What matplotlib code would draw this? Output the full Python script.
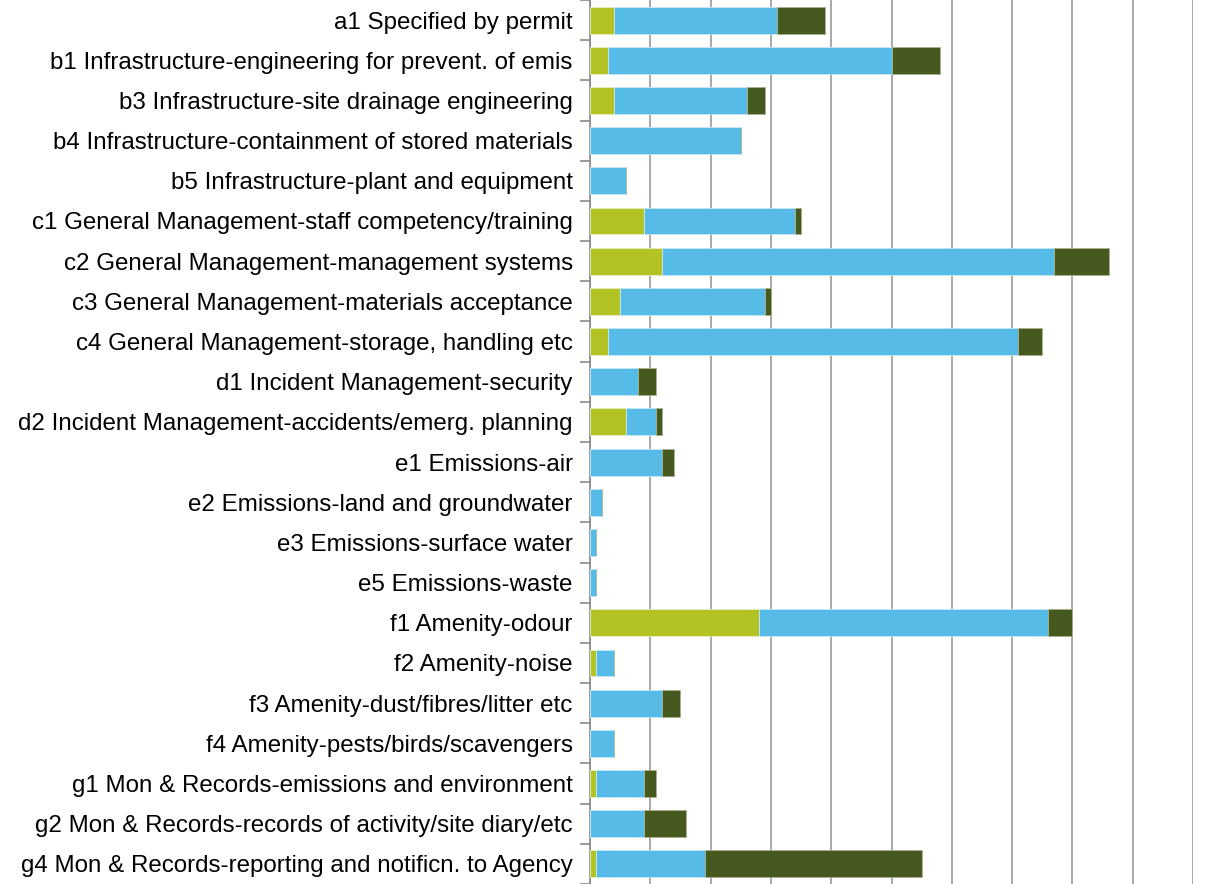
import matplotlib
matplotlib.use("Agg")
import matplotlib.pyplot as plt
import numpy as np

categories = [
    "a1 Specified by permit",
    "b1 Infrastructure-engineering for prevent. of emis",
    "b3 Infrastructure-site drainage engineering",
    "b4 Infrastructure-containment of stored materials",
    "b5 Infrastructure-plant and equipment",
    "c1 General Management-staff competency/training",
    "c2 General Management-management systems",
    "c3 General Management-materials acceptance",
    "c4 General Management-storage, handling etc",
    "d1 Incident Management-security",
    "d2 Incident Management-accidents/emerg. planning",
    "e1 Emissions-air",
    "e2 Emissions-land and groundwater",
    "e3 Emissions-surface water",
    "e5 Emissions-waste",
    "f1 Amenity-odour",
    "f2 Amenity-noise",
    "f3 Amenity-dust/fibres/litter etc",
    "f4 Amenity-pests/birds/scavengers",
    "g1 Mon & Records-emissions and environment",
    "g2 Mon & Records-records of activity/site diary/etc",
    "g4 Mon & Records-reporting and notificn. to Agency",
]
series1 = [4, 3, 4, 0, 0, 9, 12, 5, 3, 0, 6, 0, 0, 0, 0, 28, 1, 0, 0, 1, 0, 1]
series2 = [27, 47, 22, 25, 6, 25, 65, 24, 68, 8, 5, 12, 2, 1, 1, 48, 3, 12, 4, 8, 9, 18]
series3 = [8, 8, 3, 0, 0, 1, 9, 1, 4, 3, 1, 2, 0, 0, 0, 4, 0, 3, 0, 2, 7, 36]

colors = ["#B3C325", "#56BBE6", "#465A20"]

plt.rcParams['font.family'] = ['Liberation Sans', 'DejaVu Sans']
fig = plt.figure(figsize=(12.08, 8.84), dpi=100)
ax = fig.add_axes([590/1208, 0.0, (1193-590)/1208, 1.0])

y = np.arange(len(categories))
h = 0.67
s1 = np.array(series1)
s2 = np.array(series2)
s3 = np.array(series3)
ax.barh(y, s1, height=h, color=colors[0], edgecolor="#E8EEC0", linewidth=0.6, zorder=3)
ax.barh(y, s2, left=s1, height=h, color=colors[1], edgecolor="#C8E8F6", linewidth=0.6, zorder=3)
ax.barh(y, s3, left=s1 + s2, height=h, color=colors[2], edgecolor="#A8B090", linewidth=0.6, zorder=3)

ax.set_xlim(0, 100)
ax.set_ylim(len(categories) - 0.5, -0.5)
ax.set_xticks(np.arange(0, 101, 10))
ax.xaxis.grid(True, color="#9A9A9A", linewidth=1.2, zorder=0)
ax.tick_params(axis='x', length=0, labelbottom=False)

ax.set_yticks(y)
ax.set_yticklabels(categories, fontsize=17.4)
ax.tick_params(axis='y', which='major', length=0, pad=12.5)
ax.set_yticks(np.arange(-0.5, len(categories) + 0.5, 1), minor=True)
ax.tick_params(axis='y', which='minor', length=7, width=1.2, color="#8A8A8A")

for side in ['top', 'right', 'bottom']:
    ax.spines[side].set_visible(False)
ax.spines['left'].set_color("#8A8A8A")
ax.spines['left'].set_linewidth(1.2)
ax.set_axisbelow(True)

fig.savefig("out.png", dpi=100)
